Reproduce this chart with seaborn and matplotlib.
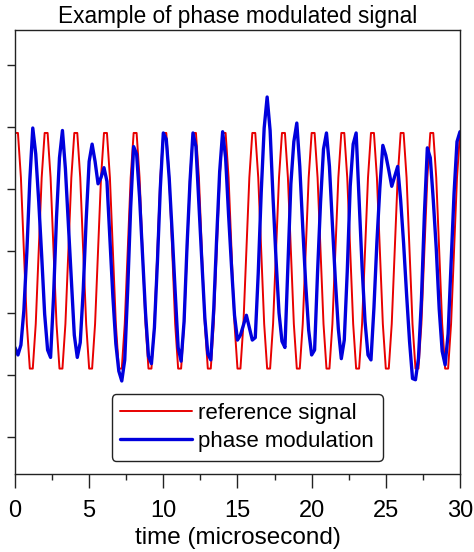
import numpy as np
import pandas as pd
import matplotlib
matplotlib.use("Agg")
import matplotlib.pyplot as plt
from matplotlib.ticker import MultipleLocator
import seaborn as sns

# sampling grid, 0.2 microsecond steps
time_us = np.linspace(0, 30, 151)

reference_signal = [
    0.95, 0.95, 0.59, 0.0, -0.59, -0.95, -0.95, -0.59, 0.0, 0.59,
    0.95, 0.95, 0.59, 0.0, -0.59, -0.95, -0.95, -0.59, 0.0, 0.59,
    0.95, 0.95, 0.59, 0.0, -0.59, -0.95, -0.95, -0.59, 0.0, 0.59,
    0.95, 0.95, 0.59, 0.0, -0.59, -0.95, -0.95, -0.59, 0.0, 0.59,
    0.95, 0.95, 0.59, 0.0, -0.59, -0.95, -0.95, -0.59, 0.0, 0.59,
    0.95, 0.95, 0.59, 0.0, -0.59, -0.95, -0.95, -0.59, 0.0, 0.59,
    0.95, 0.95, 0.59, 0.0, -0.59, -0.95, -0.95, -0.59, 0.0, 0.59,
    0.95, 0.95, 0.59, 0.0, -0.59, -0.95, -0.95, -0.59, 0.0, 0.59,
    0.95, 0.95, 0.59, 0.0, -0.59, -0.95, -0.95, -0.59, 0.0, 0.59,
    0.95, 0.95, 0.59, 0.0, -0.59, -0.95, -0.95, -0.59, 0.0, 0.59,
    0.95, 0.95, 0.59, 0.0, -0.59, -0.95, -0.95, -0.59, 0.0, 0.59,
    0.95, 0.95, 0.59, 0.0, -0.59, -0.95, -0.95, -0.59, 0.0, 0.59,
    0.95, 0.95, 0.59, 0.0, -0.59, -0.95, -0.95, -0.59, 0.0, 0.59,
    0.95, 0.95, 0.59, 0.0, -0.59, -0.95, -0.95, -0.59, 0.0, 0.59,
    0.95, 0.95, 0.59, 0.0, -0.59, -0.95, -0.95, -0.59, 0.0, 0.59,
    0.95,
]

phase_modulation = [
    -0.78, -0.84, -0.76, -0.48, -0.01, 0.57, 0.99, 0.78, 0.40, -0.04,   # 0.0 - 1.8
    -0.51, -0.80, -0.86, -0.37, 0.27, 0.75, 0.97, 0.66, 0.21, -0.24,    # 2.0 - 3.8
    -0.68, -0.86, -0.74, -0.32, 0.25, 0.72, 0.86, 0.72, 0.54, 0.59,     # 4.0 - 5.8
    0.67, 0.56, 0.10, -0.37, -0.75, -0.97, -1.05, -0.88, -0.31, 0.35,   # 6.0 - 7.8
    0.84, 0.78, 0.43, -0.04, -0.50, -0.85, -0.91, -0.62, -0.10, 0.51,   # 8.0 - 9.8
    0.95, 0.90, 0.58, 0.14, -0.33, -0.78, -0.89, -0.57, 0.04, 0.56,     # 10.0 - 11.8
    0.95, 0.84, 0.37, -0.09, -0.54, -0.83, -0.88, -0.47, 0.11, 0.64,    # 12.0 - 13.8
    0.96, 0.75, 0.29, -0.13, -0.52, -0.72, -0.68, -0.60, -0.52, -0.62,  # 14.0 - 15.8
    -0.72, -0.70, -0.18, 0.47, 0.99, 1.24, 0.97, 0.42, -0.07, -0.50,    # 16.0 - 17.8
    -0.73, -0.78, -0.13, 0.54, 0.88, 1.03, 0.68, 0.19, -0.27, -0.64,    # 18.0 - 19.8
    -0.84, -0.80, -0.17, 0.39, 0.82, 0.95, 0.68, 0.21, -0.24, -0.63,    # 20.0 - 21.8
    -0.87, -0.72, -0.17, 0.52, 0.86, 0.95, 0.41, -0.13, -0.57, -0.84,   # 22.0 - 23.8
    -0.88, -0.46, 0.07, 0.51, 0.85, 0.77, 0.65, 0.52, 0.60, 0.68,       # 24.0 - 25.8
    0.41, 0.06, -0.35, -0.73, -1.03, -1.04, -0.87, -0.40, 0.29, 0.83,   # 26.0 - 27.8
    0.75, 0.41, 0.02, -0.47, -0.81, -0.92, -0.67, -0.10, 0.46, 0.88,    # 28.0 - 29.8
    0.96,                                                                # 30.0
]

y_ticks = [-1.5, -1.0, -0.5, 0.0, 0.5, 1.0, 1.5]
x_ticks = [0, 5, 10, 15, 20, 25, 30]

df = pd.DataFrame({
    "time": time_us,
    "reference signal": reference_signal,
    "phase modulation": phase_modulation,
})

sns.set_style("ticks")
plt.rcParams["font.family"] = ["Liberation Sans", "DejaVu Sans"]
plt.rcParams["text.color"] = "black"
plt.rcParams["axes.labelcolor"] = "black"
plt.rcParams["xtick.color"] = "black"
plt.rcParams["ytick.color"] = "black"

fig = plt.figure(figsize=(4.74, 5.52), dpi=100)
ax = fig.add_axes([0.0316, 0.1413, 0.9388, 0.8043])

sns.lineplot(data=df, x="time", y="reference signal", ax=ax,
             color="#e80000", linewidth=1.4, label="reference signal")
sns.lineplot(data=df, x="time", y="phase modulation", ax=ax,
             color="#0000dd", linewidth=2.4, label="phase modulation")

ax.set_xlim(0, 30)
ax.set_ylim(-1.8, 1.78)
ax.set_xticks(x_ticks)
ax.xaxis.set_minor_locator(MultipleLocator(2.5))
ax.set_yticks(y_ticks)
ax.set_yticklabels([])
ax.tick_params(axis="x", which="major", direction="out", length=10, width=1,
               labelsize=17, pad=9, color="#222222")
ax.tick_params(axis="x", which="minor", direction="out", length=4.5, width=1,
               color="#222222")
ax.tick_params(axis="y", direction="out", length=6, width=1, color="#222222")
for s in ax.spines.values():
    s.set_visible(True)
    s.set_linewidth(1.0)
    s.set_color("#222222")

ax.set_xlabel("time (microsecond)", fontsize=17.5, labelpad=3)
ax.set_ylabel("")
ax.set_title("Example of phase modulated signal", fontsize=16.3, pad=5)

leg = ax.legend(loc="lower center", bbox_to_anchor=(0.522, 0.03),
                fontsize=16, frameon=True, fancybox=True,
                handlelength=3.2, handletextpad=0.3, labelspacing=0.3,
                borderpad=0.4, borderaxespad=0)
leg.get_frame().set_edgecolor("#222222")
leg.get_frame().set_linewidth(1.0)
leg.get_frame().set_alpha(1)

fig.savefig("out.png", dpi=100)
